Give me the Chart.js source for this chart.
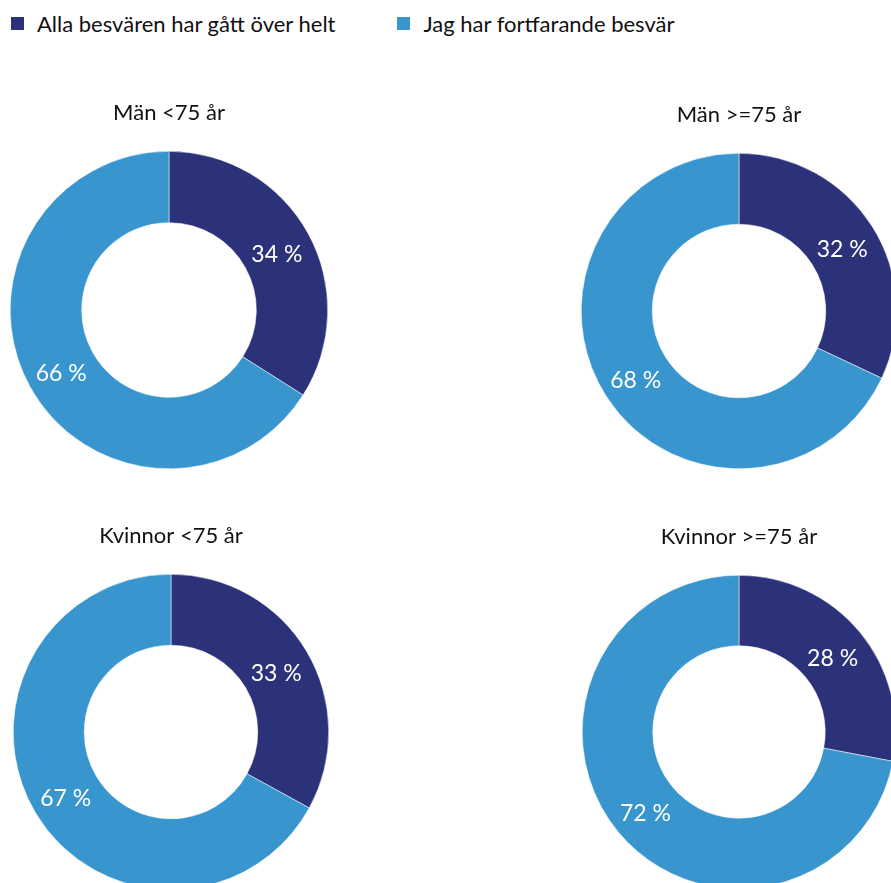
<!DOCTYPE html>
<html lang="sv">
<head>
<meta charset="utf-8">
<title>Besvär efter behandling</title>
<script src="https://cdn.jsdelivr.net/npm/chart.js@4/dist/chart.umd.min.js"></script>
<style>
  html, body { margin: 0; padding: 0; background: #fff; overflow: hidden; }
  #page { position: relative; width: 891px; height: 883px; overflow: hidden; font-family: Lato, sans-serif; }
  .legend { position: absolute; top: 10px; left: 11px; display: flex; color: #111; font-size: 22px; }
  .legend__item { display: flex; align-items: center; margin-right: 62px; }
  .legend__box { width: 13px; height: 13px; margin-right: 13px; }
  canvas { position: absolute; }
</style>
</head>
<body>
<div id="page">
  <div class="legend" id="legend"></div>
  <canvas id="chart0"></canvas>
  <canvas id="chart1"></canvas>
  <canvas id="chart2"></canvas>
  <canvas id="chart3"></canvas>
</div>
<script>
const categories = ['Alla besvären har gått över helt', 'Jag har fortfarande besvär'];
const groups = ['Män <75 år', 'Män >=75 år', 'Kvinnor <75 år', 'Kvinnor >=75 år'];
const recoveredPct = [34, 32, 33, 28];
const remainingPct = [66, 68, 67, 72];
const colors = ['#2c3279', '#3995cd'];

// where each donut sits on the page (center and radius)
const layouts = [
  { cx: 169, cy: 310, r: 159 },
  { cx: 739, cy: 311, r: 158 },
  { cx: 171, cy: 732, r: 158 },
  { cx: 739, cy: 732, r: 157 }
];

const TITLE_H = 53;
const HALF_W = 170;

function renderLegend() {
  const legend = document.getElementById('legend');
  legend.innerHTML = categories.map((label, i) => `
    <div class="legend__item">
      <span class="legend__box" style="background:${colors[i]}"></span>
      <span>${label}</span>
    </div>
  `).join('');
}

const percentLabels = {
  id: 'percentLabels',
  afterDatasetsDraw(chart) {
    const { ctx } = chart;
    const meta = chart.getDatasetMeta(0);
    const values = chart.data.datasets[0].data;
    ctx.save();
    ctx.fillStyle = '#fff';
    ctx.font = '23px Lato, sans-serif';
    ctx.textAlign = 'center';
    ctx.textBaseline = 'middle';
    meta.data.forEach((arc, i) => {
      const pos = arc.tooltipPosition();
      ctx.fillText(`${values[i]} %`, pos.x, pos.y + 4);
    });
    ctx.restore();
  }
};

function renderDonut(index) {
  const canvas = document.getElementById(`chart${index}`);
  const { cx, cy, r } = layouts[index];
  const side = HALF_W - r;

  canvas.width = HALF_W * 2;
  canvas.height = TITLE_H + r * 2 + 4;
  canvas.style.left = `${cx - HALF_W}px`;
  canvas.style.top = `${cy - r - TITLE_H}px`;

  return new Chart(canvas, {
    type: 'doughnut',
    data: {
      labels: categories,
      datasets: [{
        data: [recoveredPct[index], remainingPct[index]],
        backgroundColor: colors,
        borderColor: '#fff',
        borderWidth: 0.5
      }]
    },
    options: {
      responsive: false,
      animation: false,
      cutout: '55%',
      layout: { padding: { left: side, right: side, top: 0, bottom: 4 } },
      plugins: {
        legend: { display: false },
        tooltip: { enabled: false },
        title: {
          display: true,
          text: groups[index],
          color: '#111',
          font: { family: 'Lato, sans-serif', size: 22, weight: 'normal', lineHeight: 1.2 },
          padding: { top: 2, bottom: TITLE_H - 2 - 22 * 1.2 }
        }
      }
    },
    plugins: [percentLabels]
  });
}

renderLegend();
groups.forEach((_, i) => renderDonut(i));
</script>
</body>
</html>
